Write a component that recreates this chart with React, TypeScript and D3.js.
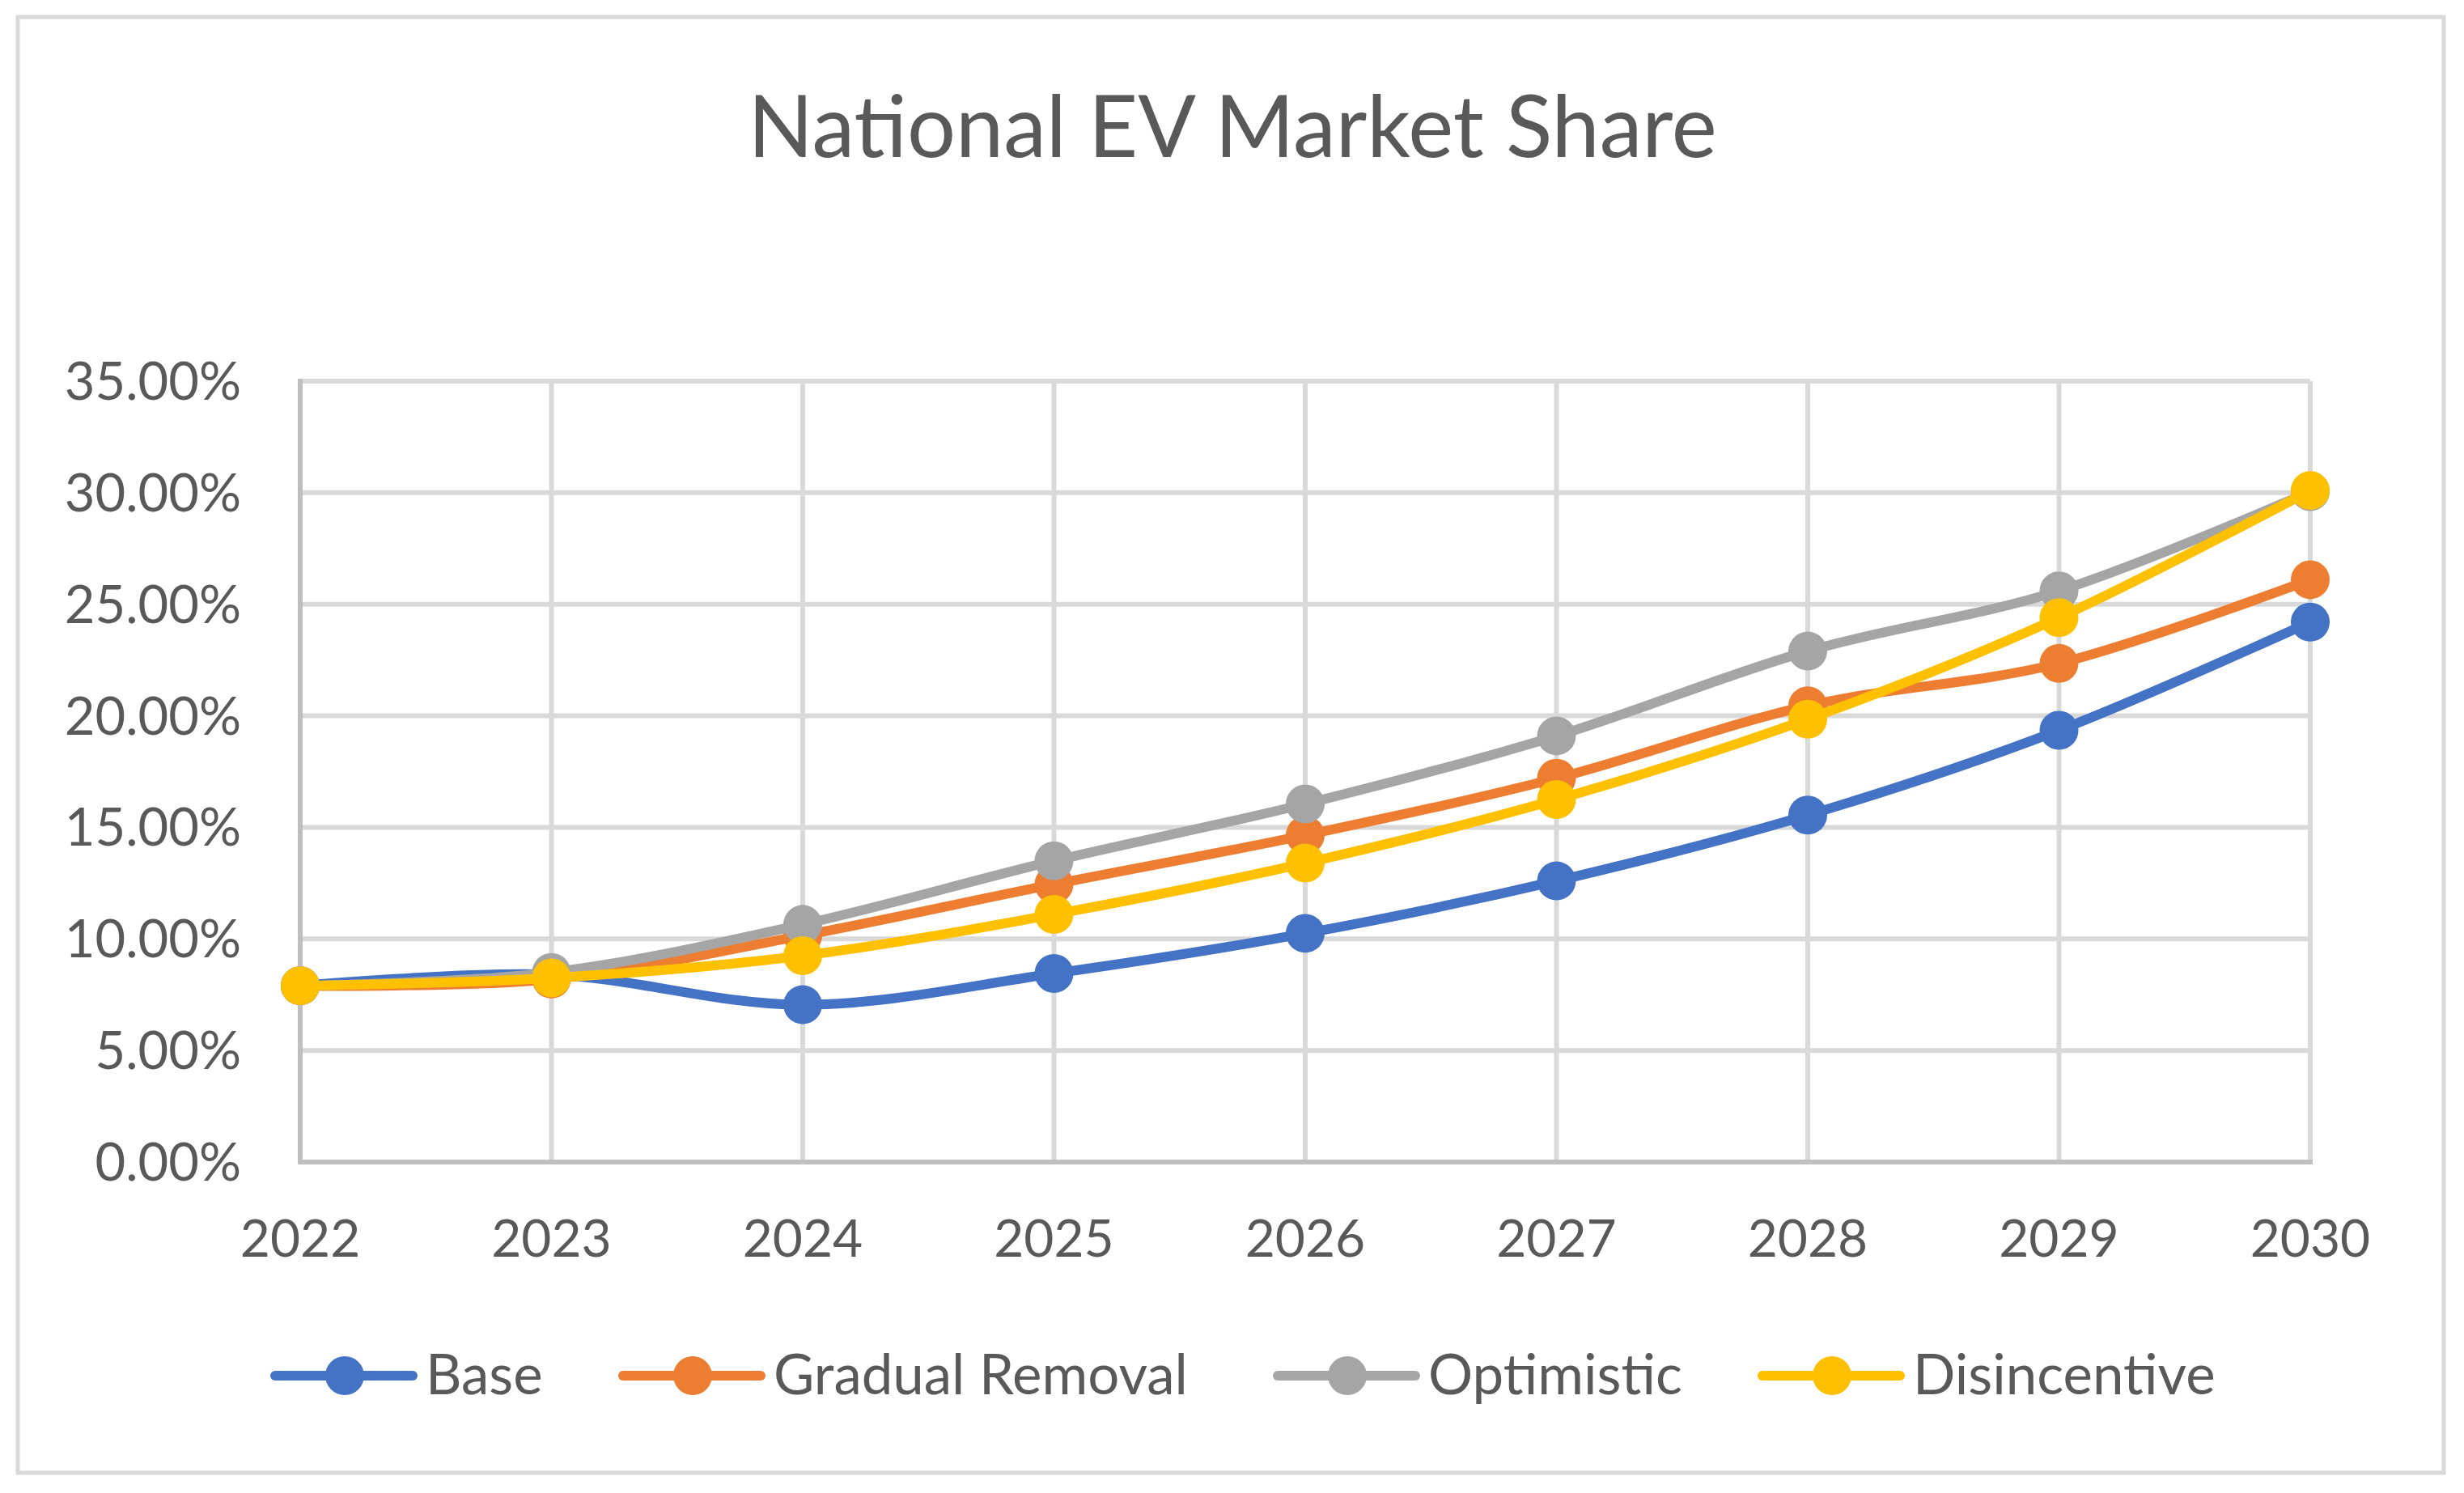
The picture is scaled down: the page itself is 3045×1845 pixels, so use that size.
import * as d3 from "d3";

const years = [2022, 2023, 2024, 2025, 2026, 2027, 2028, 2029, 2030];
const base = [7.9, 8.4, 7.05, 8.45, 10.25, 12.6, 15.55, 19.35, 24.2];
const gradualRemoval = [7.9, 8.2, 10.15, 12.45, 14.65, 17.2, 20.45, 22.35, 26.1];
const optimistic = [7.9, 8.5, 10.65, 13.5, 16.05, 19.1, 22.9, 25.6, 30.05];
const disincentive = [7.9, 8.25, 9.25, 11.1, 13.4, 16.25, 19.85, 24.4, 30.1];
const yTicks = [0, 5, 10, 15, 20, 25, 30, 35];

const seriesNames = ["Base", "Gradual Removal", "Optimistic", "Disincentive"];
const seriesValues = [base, gradualRemoval, optimistic, disincentive];
const seriesColors = ["#4472C4", "#ED7D31", "#A5A5A5", "#FFC000"];

const W = 3045;
const H = 1845;
const FONT = "Lato, 'Open Sans', sans-serif";
const TEXT = "#595959";

export default function App() {
  const margin = { top: 471, right: 190, bottom: 409, left: 371 };
  const innerW = W - margin.left - margin.right;
  const innerH = H - margin.top - margin.bottom;

  const x = d3.scalePoint<number>().domain(years).range([0, innerW]);
  const y = d3.scaleLinear().domain([0, 35]).range([innerH, 0]);

  const line = d3
    .line<number>()
    .x((_, i) => x(years[i]) as number)
    .y((d) => y(d))
    .curve(d3.curveCardinal.tension(0));

  // legend layout (start of each legend line)
  const legendX = [340, 770, 1579, 2178];
  const legendY = 1700;

  return (
    <div style={{ position: "absolute", left: 0, top: 0 }}>
      <svg width={W} height={H} style={{ display: "block", background: "#fff" }}>
        <rect x={22} y={21} width={2998} height={1799} fill="#fff" stroke="#d9d9d9" strokeWidth={5} />

        <text
          x={1523}
          y={194}
          textAnchor="middle"
          fontFamily={FONT}
          fontSize={106}
          fill={TEXT}
        >
          National EV Market Share
        </text>

        <g transform={`translate(${margin.left},${margin.top})`}>
          {/* horizontal gridlines */}
          {yTicks.slice(1).map((t) => (
            <line key={`h${t}`} x1={0} x2={innerW} y1={y(t)} y2={y(t)} stroke="#d9d9d9" strokeWidth={6} />
          ))}
          {/* vertical gridlines */}
          {years.slice(1).map((yr) => (
            <line key={`v${yr}`} x1={x(yr)} x2={x(yr)} y1={0} y2={innerH} stroke="#d9d9d9" strokeWidth={6} />
          ))}
          {/* axes */}
          <line x1={0} x2={0} y1={-3} y2={innerH} stroke="#bfbfbf" strokeWidth={6} />
          <line x1={-3} x2={innerW + 3} y1={innerH} y2={innerH} stroke="#bfbfbf" strokeWidth={6} />

          {yTicks.map((t) => (
            <text
              key={`yl${t}`}
              x={-73}
              y={y(t) + 23}
              textAnchor="end"
              fontFamily={FONT}
              fontSize={65}
              fill={TEXT}
            >
              {`${t.toFixed(2)}%`}
            </text>
          ))}
          {years.map((yr) => (
            <text
              key={`xl${yr}`}
              x={x(yr)}
              y={innerH + 117}
              textAnchor="middle"
              fontFamily={FONT}
              fontSize={64}
              fill={TEXT}
            >
              {yr}
            </text>
          ))}

          {seriesValues.map((vals, si) => (
            <g key={seriesNames[si]}>
              <path
                d={line(vals) ?? ""}
                fill="none"
                stroke={seriesColors[si]}
                strokeWidth={12}
                strokeLinejoin="round"
                strokeLinecap="round"
              />
              {vals.map((v, i) => (
                <circle key={i} cx={x(years[i])} cy={y(v)} r={24} fill={seriesColors[si]} />
              ))}
            </g>
          ))}
        </g>

        {seriesNames.map((name, si) => (
          <g key={`lg${name}`} transform={`translate(${legendX[si]},${legendY})`}>
            <line x1={0} x2={170} y1={0} y2={0} stroke={seriesColors[si]} strokeWidth={12} strokeLinecap="round" />
            <circle cx={86} cy={0} r={24} fill={seriesColors[si]} />
            <text x={186} y={23} fontFamily={FONT} fontSize={69} fill={TEXT}>
              {name}
            </text>
          </g>
        ))}
      </svg>
    </div>
  );
}
